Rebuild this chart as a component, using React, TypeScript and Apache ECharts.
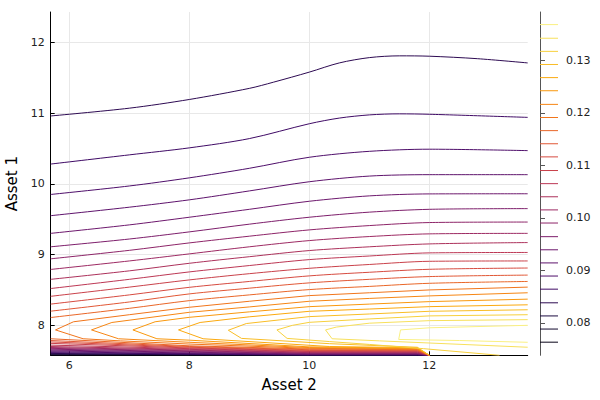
import React, { useEffect, useRef } from 'react';
import * as echarts from 'echarts';

// contour levels (25, evenly spaced) and colour bar range
const LEVELS = [
  0.0763, 0.0788, 0.0813, 0.0838, 0.0864, 0.0889, 0.0914, 0.0939, 0.0964,
  0.099, 0.1015, 0.104, 0.1065, 0.109, 0.1116, 0.1141, 0.1166, 0.1191,
  0.1216, 0.1242, 0.1267, 0.1292, 0.1317, 0.1342, 0.1368,
];
const CB_MIN = 0.0738;
const CB_MAX = 0.1392;

const X_RANGE = [5.69, 13.64];
const Y_RANGE = [7.576, 12.43];
const X_TICKS = [6, 8, 10, 12];
const Y_TICKS = [8, 9, 10, 11, 12];
const CB_TICKS = [0.08, 0.09, 0.1, 0.11, 0.12, 0.13];

// upper branches (above the ridge), levels 3..16, [asset2, asset1]
const upperBranches: (number[][] | null)[] = [
  null, null, null,
  [[5.69, 10.96], [7, 11.07], [8, 11.193], [9, 11.35], [9.4, 11.437], [10, 11.58], [10.5, 11.71], [11, 11.785], [11.5, 11.81], [12, 11.805], [12.8, 11.77], [13.64, 11.71]],
  [[5.69, 10.28], [7, 10.41], [8, 10.509], [9, 10.64], [10, 10.85], [10.5, 10.93], [11, 10.975], [11.5, 10.99], [12, 10.984], [13.64, 10.94]],
  [[5.69, 9.85], [7, 9.97], [8, 10.085], [9, 10.22], [10, 10.376], [11, 10.46], [12, 10.49], [13.64, 10.47]],
  [[5.69, 9.55], [7, 9.67], [8, 9.774], [9, 9.9], [10, 10.03], [11, 10.11], [12, 10.13], [13.64, 10.13]],
  [[5.69, 9.3], [7, 9.42], [8, 9.528], [9, 9.64], [10, 9.754], [11, 9.83], [12, 9.858], [13.64, 9.86]],
  [[5.69, 9.11], [7, 9.22], [8, 9.321], [9, 9.43], [10, 9.528], [11, 9.6], [12, 9.64], [13.64, 9.65]],
  [[5.69, 8.94], [7, 9.06], [8, 9.165], [9, 9.26], [10, 9.349], [11, 9.41], [12, 9.453], [13.64, 9.46]],
  [[5.69, 8.79], [7, 8.91], [8, 9.01], [9, 9.11], [10, 9.198], [11, 9.255], [12, 9.293], [13.64, 9.3]],
  [[5.69, 8.65], [7, 8.77], [8, 8.877], [9, 8.97], [10, 9.057], [11, 9.11], [12, 9.151], [13.64, 9.17]],
  [[5.69, 8.52], [7, 8.65], [8, 8.755], [9, 8.845], [10, 8.929], [11, 8.98], [12, 9.024], [13.64, 9.03]],
  [[5.69, 8.41], [7, 8.54], [8, 8.642], [9, 8.73], [10, 8.806], [11, 8.86], [12, 8.905], [13.64, 8.91]],
  [[5.69, 8.3], [7, 8.43], [8, 8.537], [9, 8.62], [10, 8.699], [11, 8.75], [12, 8.792], [13.64, 8.81]],
  [[5.69, 8.2], [7, 8.33], [8, 8.444], [9, 8.525], [10, 8.6], [11, 8.65], [12, 8.689], [13.64, 8.71]],
  [[5.69, 8.11], [7, 8.24], [8, 8.349], [9, 8.43], [10, 8.505], [11, 8.55], [12, 8.594], [13.64, 8.62]],
];

// closed-at-the-tip contours around the ridge, levels 17..24 (upper branch right->tip->lower branch)
const chevrons: (number[][] | null)[] = [
  null, null, null, null, null, null, null, null, null,
  null, null, null, null, null, null, null, null,
  [[13.64, 8.54], [12, 8.5], [11, 8.46], [10, 8.42], [9, 8.34], [8, 8.255], [7, 8.15], [6.07, 8.05], [5.77, 7.935], [6.23, 7.81], [6.85, 7.78], [8, 7.735], [10, 7.675], [11.8, 7.662], [12, 7.576]],
  [[13.64, 8.46], [12, 8.416], [11, 8.38], [10, 8.34], [9, 8.26], [8, 8.184], [6.71, 8.04], [6.37, 7.935], [6.82, 7.81], [8, 7.76], [10, 7.685], [11.8, 7.669], [12, 7.576]],
  [[13.64, 8.37], [12, 8.335], [11, 8.3], [10, 8.264], [9, 8.19], [8, 8.113], [7.43, 8.05], [7.06, 7.935], [7.46, 7.81], [8, 7.79], [10, 7.695], [11.8, 7.676], [12, 7.576]],
  [[13.64, 8.29], [12, 8.264], [11, 8.23], [10, 8.198], [9, 8.12], [8.18, 8.04], [7.82, 7.935], [8.23, 7.81], [10.34, 7.7], [11.8, 7.683], [12, 7.576]],
  [[13.64, 8.22], [12, 8.198], [11, 8.16], [10, 8.123], [8.95, 8.025], [8.65, 7.93], [8.87, 7.815], [10.34, 7.74], [11.8, 7.69], [12, 7.576]],
  [[13.64, 8.15], [12, 8.133], [11, 8.09], [10, 8.042], [9.72, 8.0], [9.46, 7.935], [9.63, 7.815], [10.34, 7.77], [11, 7.73], [11.9, 7.67], [13.17, 7.576]],
  [[13.64, 8.08], [12, 8.066], [11, 8.03], [10.45, 7.975], [10.27, 7.935], [10.38, 7.81], [11.17, 7.78], [13.64, 7.69]],
  [[13.64, 8.0], [12, 7.965], [11.52, 7.935], [11.49, 7.8], [12.5, 7.785], [13.64, 7.76]],
];

// lower branches squeezed against the bottom edge, levels 0..16
const lowerBranches: (number[][] | null)[] = [
  [[5.69, 7.578], [8, 7.577], [10, 7.576], [11.8, 7.576], [12, 7.576]],
  [[5.69, 7.584], [8, 7.58], [10, 7.577], [11.8, 7.577], [12, 7.576]],
  [[5.69, 7.592], [8, 7.585], [10, 7.578], [11.8, 7.578], [12, 7.576]],
  [[5.69, 7.602], [8, 7.59], [10, 7.58], [11.8, 7.58], [12, 7.576]],
  [[5.69, 7.614], [8, 7.595], [10, 7.582], [11.8, 7.582], [12, 7.576]],
  [[5.69, 7.626], [8, 7.6], [10, 7.585], [11.8, 7.585], [12, 7.576]],
  [[5.69, 7.638], [8, 7.61], [10, 7.589], [11.8, 7.589], [12, 7.576]],
  [[5.69, 7.65], [8, 7.62], [10, 7.594], [11.8, 7.594], [12, 7.576]],
  [[5.69, 7.662], [8, 7.63], [10, 7.6], [11.8, 7.6], [12, 7.576]],
  [[5.69, 7.674], [8, 7.64], [10, 7.607], [11.8, 7.606], [12, 7.576]],
  [[5.69, 7.686], [8, 7.65], [10, 7.614], [11.8, 7.613], [12, 7.576]],
  [[5.69, 7.7], [8, 7.66], [10, 7.621], [11.8, 7.62], [12, 7.576]],
  [[5.69, 7.72], [8, 7.67], [10, 7.629], [11.8, 7.627], [12, 7.576]],
  [[5.69, 7.745], [8, 7.68], [10, 7.637], [11.8, 7.634], [12, 7.576]],
  [[5.69, 7.765], [8, 7.69], [10, 7.645], [11.8, 7.641], [12, 7.576]],
  [[5.69, 7.785], [8, 7.7], [10, 7.655], [11.8, 7.648], [12, 7.576]],
  [[5.69, 7.81], [8, 7.71], [10, 7.665], [11.8, 7.655], [12, 7.576]],
];

// inferno colour map stops
const INFERNO = [
  '#000004', '#160b39', '#420a68', '#6a176e', '#932667', '#bc3754',
  '#dd513a', '#f37819', '#fca50a', '#f6d746', '#fcffa4',
];

const hexToRgb = (h: string) => [1, 3, 5].map(i => parseInt(h.slice(i, i + 2), 16));

const inferno = (t: number) => {
  const c = Math.min(1, Math.max(0, t)) * (INFERNO.length - 1);
  const i = Math.min(INFERNO.length - 2, Math.floor(c));
  const f = c - i;
  const a = hexToRgb(INFERNO[i]);
  const b = hexToRgb(INFERNO[i + 1]);
  const m = a.map((v, j) => Math.round(v + (b[j] - v) * f));
  return `rgb(${m[0]},${m[1]},${m[2]})`;
};

const FONT = 'DejaVu Sans';

const App: React.FC = () => {
  const chartRef = useRef<HTMLDivElement>(null);

  useEffect(() => {
    if (!chartRef.current) return;
    const chart = echarts.init(chartRef.current, undefined, { renderer: 'svg' });

    const series: any[] = [];
    const addLine = (data: number[][], color: string, smooth: boolean) => {
      series.push({
        type: 'line',
        xAxisIndex: 0,
        yAxisIndex: 0,
        data,
        symbol: 'none',
        smooth: smooth ? 0.3 : false,
        lineStyle: { width: 1, color },
        itemStyle: { color },
        silent: true,
      });
    };

    LEVELS.forEach((lv, k) => {
      const color = inferno((lv - CB_MIN) / (CB_MAX - CB_MIN));
      const lower = lowerBranches[k];
      const upper = upperBranches[k];
      const chevron = chevrons[k];
      if (lower) addLine(lower, color, false);
      if (upper) addLine(upper, color, true);
      if (chevron) addLine(chevron, color, false);
      // colour bar entry
      series.push({
        type: 'line',
        xAxisIndex: 1,
        yAxisIndex: 1,
        data: [[0, lv], [1, lv]],
        symbol: 'none',
        lineStyle: { width: 1, color },
        silent: true,
      });
    });

    const option = {
      animation: false,
      backgroundColor: '#ffffff',
      textStyle: { fontFamily: FONT },
      grid: [
        { left: 50.7, top: 12, width: 477, height: 343.3, outerBoundsMode: 'none' },
        { left: 540, top: 12, width: 18, height: 343.3, outerBoundsMode: 'none' },
      ],
      xAxis: [
        {
          type: 'value',
          gridIndex: 0,
          min: X_RANGE[0],
          max: X_RANGE[1],
          name: 'Asset 2',
          nameLocation: 'middle',
          nameGap: 22,
          nameTextStyle: { fontFamily: FONT, fontSize: 15, color: '#000' },
          axisLine: { show: true, onZero: false, lineStyle: { color: '#000', width: 1 } },
          axisTick: { show: true, inside: true, length: 4, customValues: X_TICKS, lineStyle: { color: '#000' } },
          axisLabel: { customValues: X_TICKS, margin: 5, fontFamily: FONT, fontSize: 11, color: '#222' },
          splitLine: { show: true, lineStyle: { color: '#e8e8e8', width: 1 } },
        },
        { type: 'value', gridIndex: 1, min: 0, max: 1, show: false },
      ],
      yAxis: [
        {
          type: 'value',
          gridIndex: 0,
          min: Y_RANGE[0],
          max: Y_RANGE[1],
          name: 'Asset 1',
          nameLocation: 'middle',
          nameGap: 30,
          nameTextStyle: { fontFamily: FONT, fontSize: 15, color: '#000' },
          axisLine: { show: true, onZero: false, lineStyle: { color: '#000', width: 1 } },
          axisTick: { show: true, inside: true, length: 4, customValues: Y_TICKS, lineStyle: { color: '#000' } },
          axisLabel: { customValues: Y_TICKS, margin: 6, fontFamily: FONT, fontSize: 11, color: '#222' },
          splitLine: { show: true, lineStyle: { color: '#e8e8e8', width: 1 } },
        },
        {
          type: 'value',
          gridIndex: 1,
          position: 'right',
          min: CB_MIN,
          max: CB_MAX,
          axisLine: { show: true, lineStyle: { color: '#555', width: 1 } },
          axisTick: { show: true, inside: false, length: 5, customValues: CB_TICKS, lineStyle: { color: '#555' } },
          axisLabel: {
            customValues: CB_TICKS,
            margin: 8,
            fontFamily: FONT,
            fontSize: 11,
            color: '#222',
            formatter: (v: number) => v.toFixed(2),
          },
          splitLine: { show: false },
        },
      ],
      series,
    };

    chart.setOption(option);
    return () => {
      chart.dispose();
    };
  }, []);

  return (
    <div
      ref={chartRef}
      style={{ position: 'absolute', left: 0, top: 0, width: 600, height: 400 }}
    />
  );
};

export default App;
